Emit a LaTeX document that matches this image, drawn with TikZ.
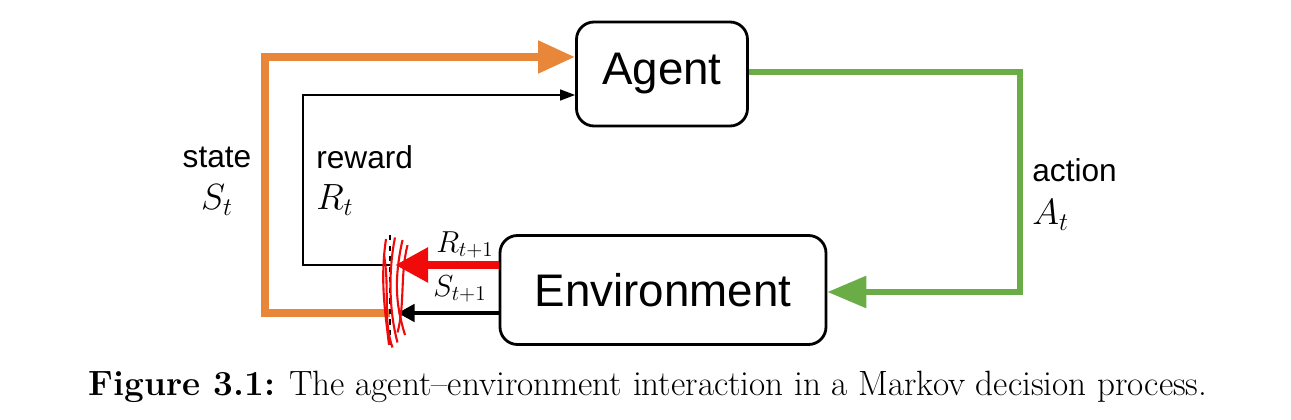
\documentclass[tikz,border=0pt]{standalone}
\usepackage{amsmath, amssymb}
\usepackage{fontspec}
\setsansfont{Liberation Sans}
\usepackage{tikz}
\usetikzlibrary{arrows.meta}
\definecolor{stateorange}{RGB}{232,135,58}
\definecolor{actiongreen}{RGB}{106,172,70}
\definecolor{markred}{RGB}{240,10,10}

\begin{document}
\begin{tikzpicture}
		\tikzstyle{box}=[draw,line width=1.6pt,rounded corners=0.35cm,font=\sffamily\fontsize{26}{30}\selectfont]
		\tikzstyle{lbl}=[font=\sffamily\fontsize{18}{22}\selectfont,inner sep=0pt]
		\tikzstyle{sym}=[font=\fontsize{22}{26}\selectfont,inner sep=0pt]
		\tikzstyle{small}=[font=\fontsize{17}{20}\selectfont,inner sep=0pt]

		\useasboundingbox (0,0) rectangle (25.82,8.4);

		\node[box,minimum width=3.42cm,minimum height=2.08cm](agent) at (13.24,6.92){Agent};
		\node[box,minimum width=6.52cm,minimum height=2.18cm](env) at (13.26,2.6){Environment};

		\coordinate(stl) at (5.3,2.14);
		\coordinate(rwl) at (6.06,3.1);
		\coordinate(cut) at (7.8,2.14);
		\coordinate(act) at (20.4,6.96);

		\node[lbl](state) at (4.34,5.26){state};
		\node[sym](st) at (4.34,4.4){$S_t$};
		\node[lbl,anchor=west](reward) at (6.32,5.26){reward};
		\node[sym,anchor=west](rt) at (6.32,4.4){$R_t$};
		\node[lbl,anchor=west](action) at (20.64,5.0){action};
		\node[sym,anchor=west](at) at (20.64,4.1){$A_t$};
		\node[small](rnext) at (9.3,3.5){$R_{t+1}$};
		\node[small](snext) at (9.2,2.62){$S_{t+1}$};

		\draw[stateorange,line width=4.5pt,-{Triangle[length=0.74cm,width=0.62cm]}] (cut) -- (stl) |- (agent.west |- 0,7.26);
		\draw[line width=0.8pt,-{Triangle[length=0.3cm,width=0.22cm]}] (cut |- rwl) -- (rwl) |- (agent.west |- 0,6.5);
		\draw[actiongreen,line width=3.4pt,-{Triangle[length=0.78cm,width=0.62cm]}] (agent.east |- act) -- (act) |- (env.east |- 0,2.56);

		\draw[markred,line width=5pt,-{Triangle[length=0.66cm,width=0.66cm]}] (env.west |- rwl) -- (7.9,3.1);
		\draw[line width=2.8pt,-{Triangle[length=0.34cm,width=0.34cm]}] (env.west |- stl) -- (7.95,2.14);

		\draw[dashed,line width=0.6pt] (7.8,3.7) -- (7.8,1.5);
		\draw[markred,line width=1.2pt] (7.72,3.62) .. controls (7.6,2.8) and (7.7,2.2) .. (7.78,1.5);
		\draw[markred,line width=1.2pt] (7.9,3.65) .. controls (7.75,2.9) and (7.8,2.1) .. (7.95,1.55);
		\draw[markred,line width=1.2pt] (8.05,3.6) .. controls (7.85,2.7) and (7.95,2.2) .. (8.1,1.7);
		\draw[markred,line width=1.2pt] (7.68,3.3) .. controls (7.8,2.6) and (7.65,2.0) .. (7.85,1.45);
		\draw[markred,line width=1.2pt] (8.15,3.5) .. controls (8.0,2.9) and (8.1,2.3) .. (7.95,1.75);

		\node[inner sep=0pt](caption) at (12.96,0.66){\fontsize{20}{24}\selectfont\textbf{Figure 3.1:} The agent--environment interaction in a Markov decision process.};
	\end{tikzpicture}
\end{document}
